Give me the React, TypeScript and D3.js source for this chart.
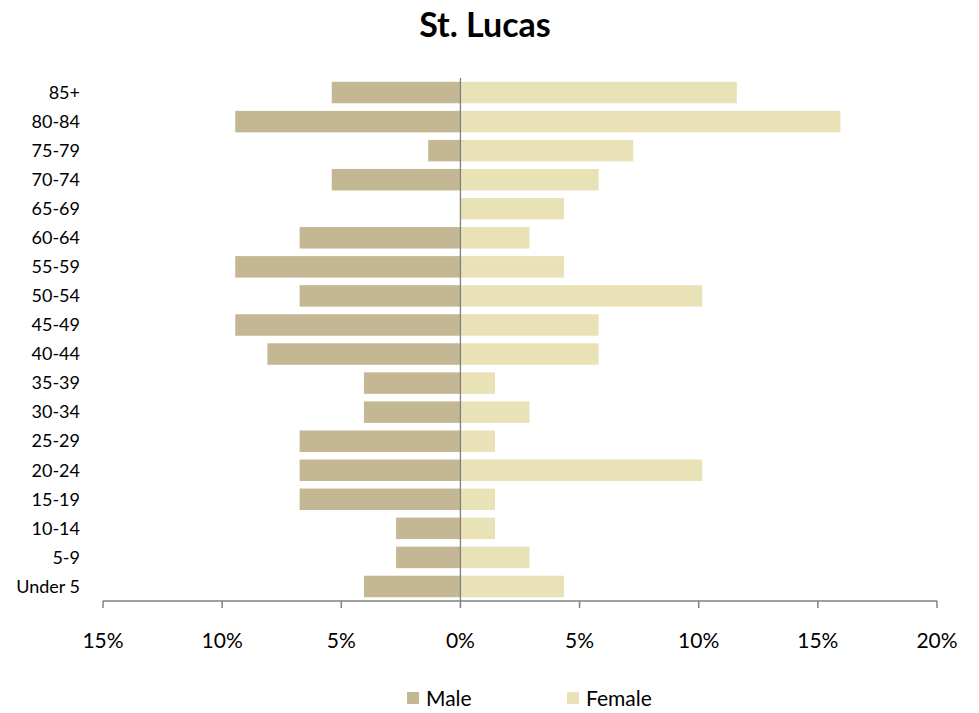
import { useEffect, useRef } from 'react';
import * as d3 from 'd3';

const ageGroups = ['85+', '80-84', '75-79', '70-74', '65-69', '60-64', '55-59', '50-54', '45-49', '40-44', '35-39', '30-34', '25-29', '20-24', '15-19', '10-14', '5-9', 'Under 5'];
const maleValues = [5.4, 9.45, 1.35, 5.4, 0, 6.75, 9.45, 6.75, 9.45, 8.1, 4.05, 4.05, 6.75, 6.75, 6.75, 2.7, 2.7, 4.05];
const femaleValues = [11.6, 15.95, 7.25, 5.8, 4.35, 2.9, 4.35, 10.15, 5.8, 5.8, 1.45, 2.9, 1.45, 10.15, 1.45, 1.45, 2.9, 4.35];
const tickValues = [-15, -10, -5, 0, 5, 10, 15, 20];

const MALE_COLOR = '#c4b794';
const FEMALE_COLOR = '#e9e2b6';
const FONT = 'Lato, "Open Sans", sans-serif';

export default function App() {
  const svgRef = useRef<SVGSVGElement>(null);

  useEffect(() => {
    if (!svgRef.current) return;
    const svg = d3.select(svgRef.current);
    svg.selectAll('*').remove();

    const width = 979;
    const height = 713;
    const plot = { left: 103, right: 937, top: 78, bottom: 601 };

    const x = d3.scaleLinear().domain([-15, 20]).range([plot.left, plot.right]);
    const y = d3.scaleBand<string>()
      .domain(ageGroups)
      .range([plot.top, plot.bottom])
      .paddingInner(0.26)
      .paddingOuter(0.13);

    // title
    svg.append('text')
      .attr('x', 485)
      .attr('y', 37)
      .attr('text-anchor', 'middle')
      .style('font-family', FONT)
      .style('font-size', '34px')
      .style('font-weight', 'bold')
      .style('fill', '#000')
      .text('St. Lucas');

    // bars
    const rows = ageGroups.map((g, i) => ({ g, m: maleValues[i], f: femaleValues[i] }));

    svg.append('g').selectAll('rect')
      .data(rows)
      .enter().append('rect')
      .attr('x', d => x(-d.m))
      .attr('y', d => y(d.g)!)
      .attr('width', d => x(0) - x(-d.m))
      .attr('height', y.bandwidth())
      .attr('fill', MALE_COLOR);

    svg.append('g').selectAll('rect')
      .data(rows)
      .enter().append('rect')
      .attr('x', x(0))
      .attr('y', d => y(d.g)!)
      .attr('width', d => x(d.f) - x(0))
      .attr('height', y.bandwidth())
      .attr('fill', FEMALE_COLOR);

    // vertical zero line
    svg.append('line')
      .attr('x1', x(0)).attr('x2', x(0))
      .attr('y1', plot.top).attr('y2', plot.bottom)
      .attr('stroke', '#808080')
      .attr('stroke-width', 1.3);

    // x axis
    const axis = svg.append('g');
    axis.append('line')
      .attr('x1', x(-15)).attr('x2', x(20))
      .attr('y1', plot.bottom).attr('y2', plot.bottom)
      .attr('stroke', '#808080')
      .attr('stroke-width', 1.5);

    axis.selectAll('line.tick')
      .data(tickValues)
      .enter().append('line')
      .attr('class', 'tick')
      .attr('x1', d => x(d)).attr('x2', d => x(d))
      .attr('y1', plot.bottom).attr('y2', plot.bottom + 7)
      .attr('stroke', '#808080')
      .attr('stroke-width', 1.5);

    axis.selectAll('text')
      .data(tickValues)
      .enter().append('text')
      .attr('x', d => x(d))
      .attr('y', 648)
      .attr('text-anchor', 'middle')
      .style('font-family', FONT)
      .style('font-size', '21px')
      .style('fill', '#000')
      .text(d => `${Math.abs(d)}%`);

    // category labels
    svg.append('g').selectAll('text')
      .data(ageGroups)
      .enter().append('text')
      .attr('x', 80)
      .attr('y', d => y(d)! + y.bandwidth() / 2)
      .attr('dy', '0.35em')
      .attr('text-anchor', 'end')
      .style('font-family', FONT)
      .style('font-size', '18px')
      .style('fill', '#000')
      .text(d => d);

    // legend
    const legend = [
      { label: 'Male', color: MALE_COLOR, x: 407 },
      { label: 'Female', color: FEMALE_COLOR, x: 567 },
    ];
    const lg = svg.append('g');
    legend.forEach(item => {
      lg.append('rect')
        .attr('x', item.x).attr('y', 692)
        .attr('width', 12).attr('height', 12)
        .attr('fill', item.color);
      lg.append('text')
        .attr('x', item.x + 19)
        .attr('y', 706)
        .style('font-family', FONT)
        .style('font-size', '21px')
        .style('fill', '#000')
        .text(item.label);
    });

    svg.attr('width', width).attr('height', height);
  }, []);

  return (
    <div style={{ position: 'absolute', left: 0, top: 0, width: 979, height: 713, background: '#fff' }}>
      <svg ref={svgRef} width={979} height={713} style={{ display: 'block' }}></svg>
    </div>
  );
}
